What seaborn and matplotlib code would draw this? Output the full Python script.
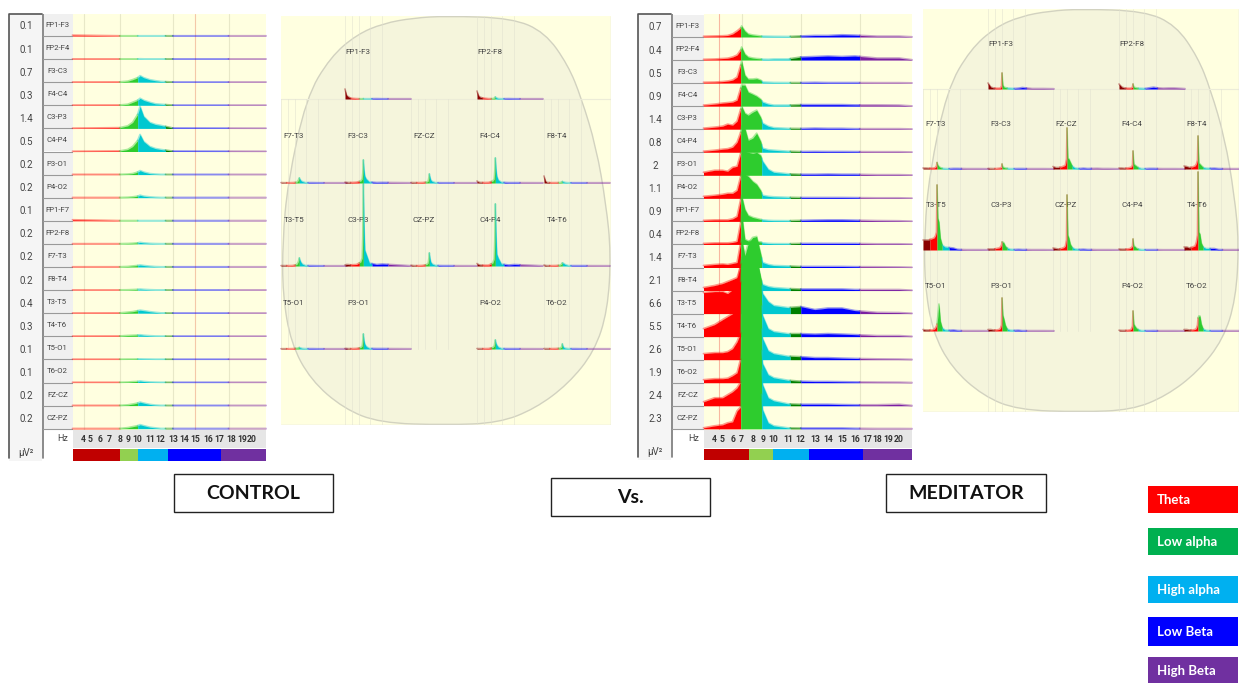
import numpy as np
import seaborn as sns
import matplotlib.pyplot as plt
from matplotlib.patches import Rectangle, PathPatch
from matplotlib.path import Path

# Channel rows, top to bottom
CHANNELS = ['FP1-F3', 'FP2-F4', 'F3-C3', 'F4-C4', 'C3-P3', 'C4-P4', 'P3-O1', 'P4-O2', 'FP1-F7',
            'FP2-F8', 'F7-T3', 'F8-T4', 'T3-T5', 'T4-T6', 'T5-O1', 'T6-O2', 'FZ-CZ', 'CZ-PZ']
CTRL_VALUES = [0.1, 0.1, 0.7, 0.3, 1.4, 0.5, 0.2, 0.2, 0.1, 0.2, 0.2, 0.2, 0.4, 0.3, 0.1, 0.1, 0.2, 0.2]
MED_VALUES = [0.7, 0.4, 0.5, 0.9, 1.4, 0.8, 2, 1.1, 0.9, 0.4, 1.4, 2.1, 6.6, 5.5, 2.6, 1.9, 2.4, 2.3]
HZ_TICKS = list(range(4, 21))

# Spectra, heights in pixels of the original panel
CTRL_HZ = [3, 8, 9, 9.5, 10, 10.2, 10.5, 11, 11.5, 12, 13, 21]
CTRL_SPECTRA = [
    [.8, .2, .2, .2, .2, .2, .2, .2, .2, .2, .2, .2],
    [.2, .2, .2, .2, .2, .3, .2, .2, .2, .2, .2, .2],
    [.2, .3, 1, 2.5, 4.5, 6.5, 4.5, 2.5, 1.5, .7, .2, .2],
    [.2, .3, 1, 3, 5, 7, 5, 3, 1.5, 1, .2, .2],
    [.2, .7, 2.5, 6, 14, 22, 12, 6, 4, 3, .4, .2],
    [.2, .5, 2, 5, 11, 17, 10, 5, 3, 2, .4, .2],
    [.2, .2, .5, 1, 2.5, 4, 2.5, 1, .5, .2, .2, .2],
    [.2, .2, .4, .8, 1.5, 2.5, 1.5, .8, .4, .2, .2, .2],
    [1, .2, .2, .2, .2, .2, .2, .2, .2, .2, .2, .2],
    [.2, .2, .4, .6, 1, 1.5, 1, .5, .3, .2, .2, .2],
    [.2, .2, .5, 1, 1.5, 2, 1.5, .8, .4, .2, .2, .2],
    [.2, .2, .3, .5, .7, 1, .7, .4, .2, .2, .2, .2],
    [.2, .3, 1, 1.5, 2.5, 3, 2.5, 1.5, .8, .3, .2, .2],
    [.2, .3, .8, 1, 1.2, 1.5, 1, .6, .3, .2, .2, .2],
    [.2, .2, .3, .3, .4, .5, .4, .3, .2, .2, .2, .2],
    [.2, .2, .4, .8, 1, 1.5, 1, .5, .3, .2, .2, .2],
    [.2, .2, .7, 1.5, 2.5, 3.5, 2.5, 1.2, .5, .2, .2, .2],
    [.2, .2, 1, 2, 3, 4, 3, 1.5, .8, .2, .2, .2],
]

MED_HZ = [3, 4, 5, 5.5, 6, 6.5, 6.9, 7, 7.3, 7.6, 8, 8.4, 8.8, 9, 9.5, 10, 11, 12, 13, 14, 15, 16, 18, 20, 21]
MED_SPECTRA = [
    [.7, 1, 1.2, 1.5, 3, 6, 9, 11, 6, 3, 2, 1.5, 1, .8, .7, .6, .5, 1, 1.5, 1.5, 2.2, 1.8, .8, .8, .2],
    [.7, 1, 1.5, 1.8, 3, 5, 10, 13, 6, 3, 2, 1.5, 1.2, .8, .7, 1, 1, 3, 3.5, 4, 3.5, 4, 2, 2, .3],
    [.8, 1, 1.5, 2, 3, 6, 18, 22, 8, 4, 4, 4.5, 3, 1, .8, .6, .5, .5, .7, .5, .5, .5, .4, .4, .2],
    [1, 2, 3, 3.5, 4, 6, 18, 21, 21, 14, 12, 10, 7, 4, 2, 1, 1, 1.5, 1.5, 1.5, 1.5, 1.2, 1.2, 1, .2],
    [1, 2, 3, 5, 4, 8, 20, 23, 16, 14, 17, 19, 12, 6, 3, 1.5, .8, .7, 1, .8, .8, .5, .5, .5, .2],
    [1, 2, 3, 3.5, 5, 10, 20, 26, 24, 12, 14, 19, 11, 4, 2.5, 2, 1, .7, .8, .7, .7, .6, .5, .5, .2],
    [3, 5, 5, 4, 8, 9, 22, 24, 24, 23, 22, 23, 20, 14, 6, 3, 1.5, 1, 1, 1.2, 1, 1, .6, .6, .3],
    [2, 3, 4, 5, 5, 8, 22, 26, 24, 22, 17, 14, 8, 3, 2, 1.5, 1, .8, .8, .8, .8, .7, .5, .5, .2],
    [1, 1.5, 1.5, 1.5, 2.5, 5, 22, 26, 12, 6, 4, 3, 2, 1.5, 1, .8, .7, 1, 1.3, 1.5, 1.5, 1.2, .8, .6, .2],
    [1, 1.5, 1.5, 1.5, 2, 3, 22, 32, 5, 3.5, 4, 3, 2.5, 1.5, 1, .8, .7, 1, 1, 1, 1, 1, .6, .6, .3],
    [2, 3, 3.5, 3, 4, 5, 25, 29, 12, 24, 30, 31, 14, 5, 3, 2, 1.5, 1, 1, 1, 1, .8, .7, .5, .2],
    [3, 5, 7, 9, 11, 13, 24, 30, 32, 30, 32, 32, 13, 6, 4, 3, 2, 1.5, 1.5, 1.5, 1.5, 1, 1, 1, .3],
    [21, 22, 22, 20, 24, 30, 50, 56, 56, 54, 56, 56, 35, 20, 12, 8, 6, 7, 4, 5.5, 5.5, 3, 1.2, 1, .3],
    [8, 12, 17, 20, 23, 30, 55, 70, 70, 68, 70, 65, 40, 21, 8, 5, 3, 3, 2.5, 3, 2.5, 2, 1, 1, .3],
    [6, 7, 7, 8, 11, 18, 27, 60, 50, 60, 62, 58, 40, 21, 9, 6, 3.5, 3, 2, 2, 1.5, 1.2, .8, .6, .3],
    [3, 4, 4, 4.5, 7, 10, 24, 45, 40, 55, 60, 58, 45, 19, 8, 5, 2.5, 1.5, 1.2, 1.2, 1, .8, .6, .5, .2],
    [4, 8, 8, 11, 14, 18, 24, 50, 35, 40, 60, 64, 50, 21, 8, 5, 2, 1.5, 1.5, 1.5, 1.2, 1, 1, 1.5, .3],
    [1, 3, 4, 6, 7, 18, 22, 55, 45, 55, 62, 65, 50, 19, 6, 3, 1, .8, .8, .8, .8, .5, .3, .3, .2],
]

# Head maps: rows of channels, None where the slot is empty
HEAD_ROWS = [[None, 'FP1-F3', None, 'FP2-F8', None],
             ['F7-T3', 'F3-C3', 'FZ-CZ', 'F4-C4', 'F8-T4'],
             ['T3-T5', 'C3-P3', 'CZ-PZ', 'C4-P4', 'T4-T6'],
             ['T5-O1', 'P3-O1', None, 'P4-O2', 'T6-O2']]

CTRL_MINI_HZ = [3, 3.5, 4, 5, 7, 8.5, 9, 9.2, 9.4, 9.6, 9.9, 10.4, 11.5, 14, 16, 26]
CTRL_MINI = {
    'FP1-F3': [10, 4, 2.5, .8, .4, .3, .3, .3, .4, .3, .3, .3, .3, .4, .3, .3],
    'FP2-F8': [8, 3.5, 2, 1, .4, .4, .8, 1.5, 2, 1.5, 1, .5, .3, .4, .3, .3],
    'F7-T3': [.4, .4, .3, .3, .4, .8, 2.5, 4, 5, 4, 2.5, 1.5, .4, .4, .3, .3],
    'F3-C3': [.8, .6, .5, .5, .8, 2, 4, 10, 23, 14, 7, 4, 1, .5, .6, .3],
    'FZ-CZ': [.5, .5, .4, .4, .5, 1, 2, 5, 9, 6, 3, 1.5, .4, .3, .3, .3],
    'F4-C4': [2, 1, .6, .5, .6, 2, 4, 12, 25, 15, 7, 3, .7, .4, .4, .3],
    'F8-T4': [7, 2, .6, .4, .4, .5, .8, 1, 1.5, 1.3, 1, .6, .3, .3, .3, .3],
    'T3-T5': [.4, .4, .4, .4, .5, 1.5, 4, 6, 8, 6, 4, 2, .5, .4, .3, .3],
    'C3-P3': [1, 1.5, 1.5, 1.2, 1.5, 4, 8, 30, 82, 45, 16, 12, 3, 1.5, 2, .3],
    'CZ-PZ': [.8, .6, .4, .4, .6, 1.5, 3, 7, 13, 8, 4, 2, .6, .4, .4, .3],
    'C4-P4': [2.5, 1.5, 1, .8, .8, 3, 7, 25, 62, 35, 12, 8, 2, 1, 1.5, .3],
    'T4-T6': [1, .6, .4, .4, .5, .8, 1.5, 2.5, 3, 3, 2.5, 1.5, .4, .4, .4, .3],
    'T5-O1': [.3, .3, .3, .3, .4, .8, 1, 1.3, 1.5, 1.3, 1, .6, .4, .4, .3, .3],
    'P3-O1': [.5, .5, .4, .4, .6, 1.5, 3, 8, 15, 9, 5, 2.5, .6, .5, .5, .3],
    'P4-O2': [.5, .4, .4, .4, .5, 1.5, 3, 6, 9, 6, 4, 2, .5, .4, .4, .3],
    'T6-O2': [.5, .4, .4, .4, .5, .8, 1.5, 3, 5, 3, 1.5, .8, .4, .4, .3, .3],
}

MED_MINI_HZ = [2, 3, 4, 5, 6, 6.5, 6.9, 7.1, 7.4, 7.8, 8.3, 9, 10, 11.5, 13, 14.5, 16, 18, 20, 22, 26]
MED_MINI = {
    'FP1-F3': [6, 2, 1, .8, .8, 1, 3, 16, 4, 2, 1.5, 1, .8, .5, .8, 1.5, 1, .5, .5, .5, .3],
    'FP2-F8': [5, 2, 1, .8, .8, 1, 2, 5, 2, 1.5, 1.2, .8, .7, .5, 1.2, 1.8, 1.2, .8, 1, 1, .4],
    'F7-T3': [1, 1, .8, .8, 1, 1.5, 3, 6.5, 4, 2.5, 1.5, .7, .5, .4, .6, .6, .5, .4, .4, .4, .3],
    'F3-C3': [.5, .5, .4, .5, .8, 1, 1.5, 5, 2, 1.5, 1, .7, .4, .4, .5, .5, .4, .4, .4, .4, .3],
    'FZ-CZ': [2.5, 1.5, 1.5, 2, 3, 4, 10, 41, 11, 10, 7, 3, 1, .5, .8, .5, .6, .7, .5, .5, .3],
    'F4-C4': [1, 1, .7, 1, 1.5, 2, 4, 18, 5, 4, 3, 1.5, .5, .4, .6, .6, .5, .4, .4, .4, .3],
    'F8-T4': [3, 2.5, 1.5, 2, 3, 5, 9, 33, 6, 5, 3.5, 1.5, .8, .7, .8, .5, .4, .4, .4, .4, .3],
    'T3-T5': [10, 10, 10, 11, 12, 14, 18, 65, 32, 28, 12, 5, 3, 2.5, 2, .7, .5, .4, .4, .4, .3],
    'C3-P3': [1, 1, 1, 1.5, 2, 3, 5, 8, 8, 7, 4, 2, .8, .5, .7, .5, .5, .4, .4, .4, .3],
    'CZ-PZ': [2, 1.5, 1, 1.5, 2.5, 4, 10, 55, 15, 12, 6, 2.5, 1, .6, .8, .5, .5, .4, .4, .4, .3],
    'C4-P4': [1, .8, .8, 1, 1.5, 2.5, 4, 11, 4, 3.5, 2, 1, .5, .4, .4, .4, .4, .3, .3, .3, .3],
    'T4-T6': [3, 3, 2, 3, 4, 8, 15, 78, 18, 16, 7, 3, 1.5, 1.5, 1.5, .5, .4, .4, .4, .4, .3],
    'T5-O1': [1.5, 1, 1, 1, 1.5, 3, 5, 7, 15, 27, 10, 3, 1, .7, 1, .5, .4, .4, .4, .4, .3],
    'P3-O1': [1.5, 1.5, 1, 1, 1.5, 2.5, 6, 33, 16, 12, 6, 2, .8, .6, .8, .4, .4, .4, .4, .4, .3],
    'P4-O2': [.8, .6, .6, .7, 1, 2, 5, 20, 7, 5, 3, 1.5, .5, .4, .4, .5, .4, .4, .4, .4, .3],
    'T6-O2': [1.5, 1.5, 1, 1, 1.5, 2.5, 6, 13, 15, 15, 7, 2, .7, .4, .4, .4, .4, .4, .4, .4, .3],
}

LEGEND_LABELS = ['Theta', 'Low alpha', 'High alpha', 'Low Beta', 'High Beta']
LEGEND_COLORS = ['#FF0000', '#00B050', '#00B0F0', '#0000FF', '#7030A0']
BAR_COLORS = ['#C00000', '#92D050', '#00B0F0', '#0000FF', '#7030A0']
SPEC_COLORS = ['#FF0000', '#2ECC2E', '#00C8D0', '#008000', '#0000FF', '#7B1FA2']
MINI_COLORS = ['#8B0000', '#FF0000', '#2ECC2E', '#00C8D0', '#0000FF', '#7B1FA2']

# Layout in pixels of the 1239x683 picture
W, H = 1239, 683
YELLOW = '#FFFFE0'
TEXT = '#444444'
# Outline of the head shape, as fractions of a head map panel
HEAD_OUT_X = [.5, .7, .8, .87, .91, .955, .985, 1.0, .99, .95, .87, .77, .66, .5, .3, .19, .09, .03, .005, .005, .02, .076, .15, .23, .31, .4]
HEAD_OUT_Y = [.0, .005, .04, .12, .2, .32, .46, .58, .72, .82, .9, .96, .995, 1.0, .995, .96, .89, .8, .68, .55, .41, .2, .1, .045, .018, .005]

sns.set_theme(style='white')
plt.rcParams['font.family'] = ['Roboto', 'DejaVu Sans']
fig = plt.figure(figsize=(W / 100, H / 100), dpi=100, facecolor='white')


def px_axes(x0, y0, x1, y1, **kw):
    return fig.add_axes([x0 / W, 1 - y1 / H, (x1 - x0) / W, (y1 - y0) / H], **kw)


def set_hz_scale(ax, hz_a, px_a):
    ax.set_xscale('function', functions=(lambda v: np.interp(v, hz_a, px_a), lambda p: np.interp(p, px_a, hz_a)))
    ax.set_xlim(hz_a[0], hz_a[-1])


def spectrum(ax, hz, y, edges, colors, lw=1.3):
    hz = np.array(hz, dtype=float)
    y = np.array(y, dtype=float)
    for lo, hi, c in zip(edges[:-1], edges[1:], colors):
        xb = np.unique(np.r_[lo, hz[(hz > lo) & (hz < hi)], hi])
        yb = np.interp(xb, hz, y)
        ax.fill_between(xb, 0, yb, color=c, lw=0, clip_on=False, snap=False)
        sns.lineplot(x=xb, y=yb, ax=ax, color=c, alpha=0.4, lw=lw, estimator=None, clip_on=False, snap=False)


def stacked_panel(box, values, hz, spectra, hz_a, px_a, spec_edges, bar_edges, guides):
    left, val_r, lab_r, right, top, base0, step, bottom = box
    bg = px_axes(left, top, lab_r, bottom)
    bg.set_xlim(left, lab_r)
    bg.set_ylim(bottom, top)
    bg.axis('off')
    bg.add_patch(Rectangle((left, top), val_r - left, bottom - top, fc='#F5F5F5', ec='none'))
    bg.plot([left, left, val_r], [bottom - 3, top, top], color='#555555', lw=1.2, clip_on=False)
    bg.plot([val_r + .5, val_r + .5], [top, bottom - 3], color='#777777', lw=1.2)
    for i, (name, v) in enumerate(zip(CHANNELS, values)):
        base = base0 + step * i
        bg.add_patch(Rectangle((val_r + 1.5, base - step + 1), lab_r - val_r - 1.5, step - 1, fc='#F0F0F0', ec='none'))
        bg.plot([val_r + 1, lab_r], [base, base], color='#999999', lw=0.8)
        bg.text((left + val_r) / 2 + 0.5, base - step / 2 + 2, str(v), ha='center', va='center', fontsize=7, color=TEXT)
        bg.text((val_r + lab_r) / 2, base - step / 2 + 0.5, name, ha='center', va='center', fontsize=5.6, color=TEXT)
    hz_y = base0 + step * 17 + 1
    bg.text(lab_r - 10, hz_y + 9, 'Hz', ha='center', va='center', fontsize=6.5, color=TEXT)
    bg.text((left + val_r) / 2, bottom - 8, 'µV²', ha='center', va='center', fontsize=7, color=TEXT)

    panel = px_axes(lab_r, top, right, hz_y, facecolor=YELLOW)
    set_hz_scale(panel, hz_a, px_a)
    for g, col in guides:
        panel.axvline(g, color=col, lw=0.8)
    panel.set_xticks([])
    panel.set_yticks([])
    for s in panel.spines.values():
        s.set_visible(False)

    for i, row in enumerate(spectra):
        base = base0 + step * i
        ax = px_axes(lab_r, base - step, right, base)
        ax.patch.set_alpha(0)
        set_hz_scale(ax, hz_a, px_a)
        spectrum(ax, hz, row, spec_edges, SPEC_COLORS)
        ax.set_xlim(hz_a[0], hz_a[-1])
        ax.set_ylim(0, step)
        ax.axis('off')

    ticks = px_axes(lab_r, hz_y, right, hz_y + 18, facecolor='#E6E6E6')
    set_hz_scale(ticks, hz_a, px_a)
    ticks.set_ylim(0, 1)
    for t in HZ_TICKS:
        ticks.text(t, 0.45, str(t), ha='center', va='center', fontsize=6.2, fontweight='bold', color='#333333')
    ticks.set_xticks([])
    ticks.set_yticks([])
    for s in ticks.spines.values():
        s.set_visible(False)

    bar = px_axes(lab_r, hz_y + 19.5, right, bottom)
    set_hz_scale(bar, hz_a, px_a)
    for lo, hi, c in zip(bar_edges[:-1], bar_edges[1:], BAR_COLORS):
        bar.barh(0.5, hi - lo, left=lo, height=1, color=c, lw=0)
    bar.set_xlim(hz_a[0], hz_a[-1])
    bar.set_ylim(0, 1)
    bar.axis('off')


def head_panel(rect, cols, col_w, bases, label_up, mini, mini_hz, xlim, edges):
    x0, y0, x1, y1 = rect
    ax = px_axes(x0, y0, x1, y1, facecolor=YELLOW)
    ax.set_xlim(x0, x1)
    ax.set_ylim(y1, y0)
    ax.set_xticks([])
    ax.set_yticks([])
    for s in ax.spines.values():
        s.set_visible(False)
    px = x0 + np.array(HEAD_OUT_X) * (x1 - x0)
    py = y0 + np.array(HEAD_OUT_Y) * (y1 - y0)
    ctrl = np.c_[px, py]
    mids = (ctrl + np.roll(ctrl, -1, axis=0)) / 2
    verts = [mids[-1]]
    codes = [Path.MOVETO]
    for c, m in zip(ctrl, mids):
        verts += [c, m]
        codes += [Path.CURVE3, Path.CURVE3]
    ax.add_patch(PathPatch(Path(verts, codes), fc='#F5F5DC', ec='#D2D2C0', lw=1.0, zorder=1))
    ax.axhline(bases[0], color='#ECECD8', lw=0.8, zorder=2)
    for i, c in enumerate(cols):
        low, high = (y0, y1) if i in (1, 3) else (bases[0], bases[-1])
        for off in (0, 7, 14, 25, 37):
            ax.plot([c + off, c + off], [low, high], color='#E2E2D0', lw=0.7, alpha=0.55, zorder=2)
    ax.axvline(x1 - 0.5, color='#DDDDDD', lw=1.0, zorder=2)
    ax.axhline(y1 - 0.5, color='#DDDDDD', lw=1.0, zorder=2)

    for r, row in enumerate(HEAD_ROWS):
        for c, name in zip(cols, row):
            if name is None:
                continue
            m = px_axes(c, bases[r] - 30, c + col_w, bases[r])
            m.patch.set_alpha(0)
            spectrum(m, mini_hz, mini[name], edges, MINI_COLORS, lw=1.2)
            m.set_xlim(*xlim)
            m.set_ylim(0, 30)
            m.axis('off')
            ax.text(c + 13, bases[r] - label_up, name, ha='center', va='center', fontsize=5.8, color=TEXT, zorder=5)


# Left stacked panel
stacked_panel((9, 42, 72.5, 266, 14, 36, 23.1, 461), CTRL_VALUES, CTRL_HZ, CTRL_SPECTRA,
              [3, 4, 5, 6, 7, 8, 9, 10, 11, 12, 13, 14, 15, 16, 17, 18, 19, 20, 21],
              [73, 84, 91, 100, 110, 120, 128, 138, 150, 161, 173, 184, 195, 208, 219, 231, 242, 252, 266],
              [3, 8, 10, 12.4, 13, 17.8, 21], [3, 8, 10, 12.6, 17.2, 21],
              [(4, '#E8E8C8'), (8, '#E8E8C8'), (13, '#E8E8C8'), (15, '#F4C8A8'), (17.8, '#E8E8C8')])
head_panel((281, 16, 611, 425), [281, 345, 411, 477, 544], 66, [99, 183, 266, 349], 46.5,
           CTRL_MINI, CTRL_MINI_HZ, (3, 26), [3, 5, 8, 9.4, 12.4, 18, 26])

# Right stacked panel
stacked_panel((638, 671, 703.5, 912, 14, 37, 23.05, 460), MED_VALUES, MED_HZ, MED_SPECTRA,
              [3, 4, 5, 6, 7, 8, 9, 10, 11, 12, 13, 14, 15, 16, 17, 18, 19, 20, 21],
              [704, 715, 723, 733, 742, 753, 763, 774, 788, 801, 815, 828, 842, 855, 867, 877, 888, 899, 912],
              [3, 6.9, 8.9, 11.2, 12, 16.4, 21], [3, 7.64, 9.93, 12.57, 16.67, 21],
              [(4.6, '#F8B8A0'), (7, '#E8E8C8'), (12, '#E8E8C8'), (16.4, '#E8E8C8')])
head_panel((923, 9, 1239, 412), [923, 988, 1053, 1119, 1184], 66, [89, 169, 250, 331], 45,
           MED_MINI, MED_MINI_HZ, (2, 26), [2, 4.5, 7.1, 9, 11.5, 16, 26])

# Boxed titles and the colour key go on top
top = fig.add_axes([0, 0, 1, 1])
top.set_xlim(0, W)
top.set_ylim(H, 0)
top.patch.set_alpha(0)
top.axis('off')
for label, (x0, y0, x1, y1) in zip(['CONTROL', 'Vs.', 'MEDITATOR'],
                                   [(173.5, 473.5, 333, 512), (551, 477.5, 710, 516), (886, 474, 1046, 512)]):
    top.add_patch(Rectangle((x0, y0), x1 - x0, y1 - y0, fc='white', ec='#222222', lw=1.0))
    top.text((x0 + x1) / 2, (y0 + y1) / 2 + 0.5, label, ha='center', va='center', fontsize=14, fontweight='bold',
             color='#111111', family='Lato')
for label, color, (y0, y1) in zip(LEGEND_LABELS, LEGEND_COLORS,
                                  [(486, 513), (528, 555), (576, 603), (617, 646), (657, 683)]):
    top.add_patch(Rectangle((1147.5, y0), 90, y1 - y0, fc=color, ec='none'))
    top.text(1157, (y0 + y1) / 2 + 1, label, ha='left', va='center', fontsize=9.5, fontweight='bold', color='white',
             family='Lato')

fig.savefig('out.png', dpi=100)
